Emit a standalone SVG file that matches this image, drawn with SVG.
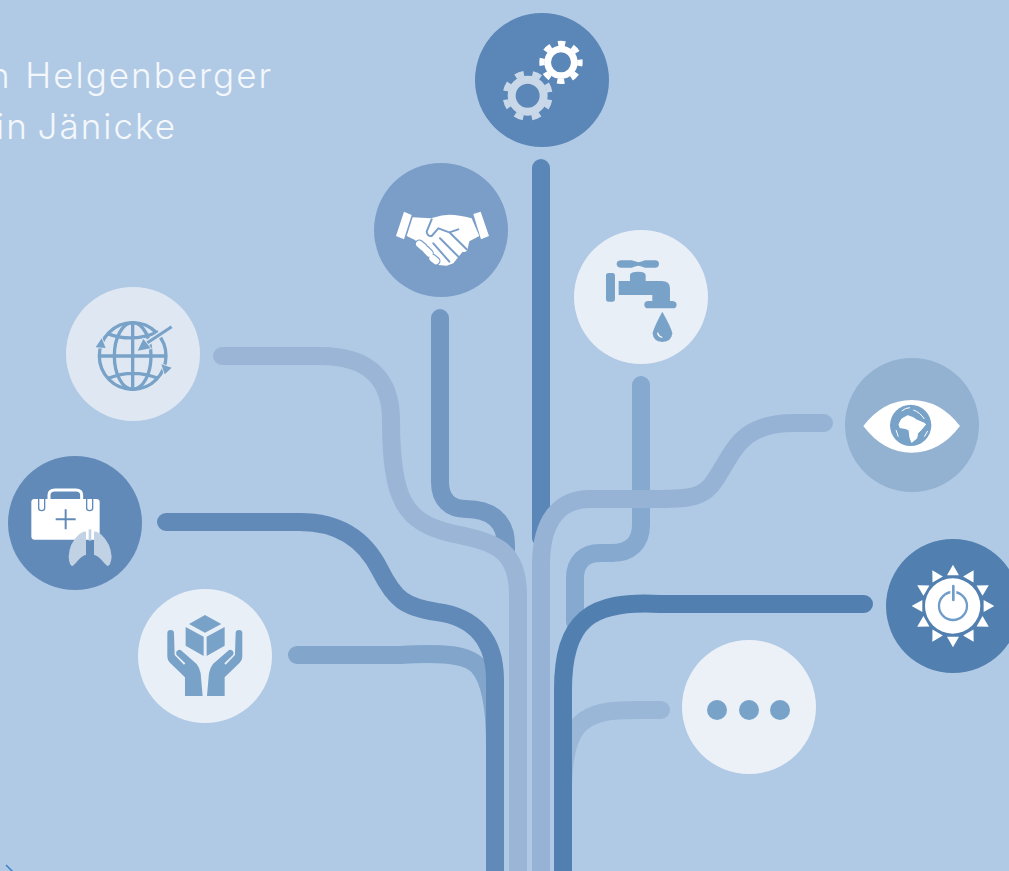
<svg xmlns="http://www.w3.org/2000/svg" width="1009" height="871" viewBox="0 0 1009 871">
<style>
.c{fill:none;stroke-width:18;stroke-linecap:round;stroke-linejoin:round}
.t{font-family:"Inter","Open Sans","Liberation Sans",sans-serif;font-weight:300;font-size:35px;letter-spacing:2px;fill:#f4f7fb;text-anchor:end}
.i{fill:#78a2c8}
.il{fill:none;stroke:#78a2c8}
</style>
<defs>
<path id="hand" d="M502 1060A10 10 0 0 1 522 1060L524 1125L552 1154L556 1150L530 1125Q525 1115 535 1110Q542 1108 548 1115L590 1152Q600 1165 602 1180L608 1248L555 1248L555 1192L510 1148Q502 1140 502 1130Z"/>
<polygon id="ray" points="-18,-92 18,-92 0,-124"/>
</defs>
<rect width="1009" height="871" fill="#b0cae5"/>
<text class="t" x="273" y="88" word-spacing="2">n Helgenberger</text>
<text class="t" x="177" y="139" word-spacing="-3">in Jänicke</text>
<path d="M6 865L14 873" stroke="#3f7fc0" stroke-width="1.5" fill="none"/>
<g id="connectors">
<path class="c" d="M541 168V538" style="stroke:#5b86b8"/>
<path class="c" stroke="#7399c3" d="M440 318V482C440 500 450 509 466 509C490 509 506 520 506 545V552"/>
<path class="c" stroke="#86a9d0" d="M641 385V525C641 543 630 553 612 553H600C584 553 575 562 575 578V622"/>
<path class="c" stroke="#9ab5d6" d="M222 356H320C370 356 391 380 391 420C391 500 405 522 450 533C490 542 518 545 518 595V880"/>
<path class="c" stroke="#96b3d6" d="M824 423H795C740 423 735 450 715 480C705 497 690 499 660 499H590C560 499 541 520 541 565V880"/>
<path class="c" stroke="#82a5cc" d="M297 655H400C445 652 468 655 478 666C488 677 495 700 495 745"/>
<path class="c" stroke="#628ab8" d="M166 522H300C340 522 365 540 380 570C395 600 405 607 437 612C475 617 495 640 495 680V880"/>
<path class="c" stroke="#9ab7d8" d="M661 710H635C585 710 563 720 563 790"/>
<path class="c" stroke="#517fb0" d="M864 604H660C590 600 563 620 563 690V880"/>
</g>
<g id="gears">
<circle cx="542" cy="80" r="67" fill="#5b86b8"/>
<g transform="translate(360 0) scale(.3333)" fill="none">
<circle cx="603" cy="187" r="40" stroke="#fff" stroke-width="20"/>
<circle cx="603" cy="187" r="57" stroke="#fff" stroke-width="16" stroke-dasharray="22 22.8" stroke-dashoffset="11"/>
<circle cx="503" cy="287" r="48" stroke="#c9d8e8" stroke-width="24"/>
<circle cx="503" cy="287" r="67" stroke="#c9d8e8" stroke-width="16" stroke-dasharray="26 26.6" stroke-dashoffset="-13"/>
</g>
</g>
<g id="handshake">
<circle cx="441" cy="230" r="67" fill="#7a9ec7"/>
<g transform="translate(390 200) scale(.3333)">
<path fill="#fff" d="M42 35L65 45L42 118L18 108ZM272 35L250 42L273 118L297 108ZM68 52L122 55L135 52Q175 35 245 55L268 108L238 124L232 150Q228 158 218 155L190 190L170 197L145 195L75 120L50 108Z"/>
<path fill="none" stroke="#7a9ec7" stroke-width="6" stroke-linecap="round" stroke-linejoin="round" d="M125 58L110 95Q112 110 125 108L145 85L178 97L230 148M178 97L205 88M150 115L205 170M130 130L178 185"/>
<path fill="none" stroke="#7a9ec7" stroke-width="27" stroke-linecap="round" d="M88 132L100 142M108 150L118 160M128 175L138 183"/>
<path fill="none" stroke="#fff" stroke-width="20" stroke-linecap="round" d="M88 132L100 142M108 150L118 160M128 175L138 183"/>
</g>
</g>
<g id="tap">
<circle cx="641" cy="297" r="67" fill="#e9eff7"/>
<g transform="translate(360 0) scale(.3333)">
<path class="i" d="M770 792Q770 781 785 781L815 781Q830 785 835 787Q845 785 855 781L885 781Q897 781 897 792Q897 803 885 803L855 803Q845 799 835 797Q825 799 815 803L785 803Q770 803 770 792Z"/>
<rect class="i" x="738" y="819" width="27" height="86" rx="8"/>
<path class="i" d="M810 843L810 825Q812 815 835 815Q855 815 857 825L857 843L905 843Q930 843 930 865L930 903L938 903Q950 905 950 914Q950 925 938 925L865 925Q853 925 853 914Q853 903 865 903L877 903L877 885L776 885L776 843Z"/>
<path class="i" d="M907 935Q880 985 878 1000Q880 1025 907 1026Q935 1025 937 1000Q935 985 907 935Z"/>
<path d="M893 998Q895 1010 907 1012" fill="none" stroke="#fff" stroke-width="4"/>
</g>
</g>
<g id="globe">
<circle cx="133" cy="354" r="67" fill="#dfe8f2"/>
<g transform="translate(90 315) scale(.3333)">
<g class="il" stroke-width="10">
<circle cx="128" cy="123" r="100"/>
<ellipse cx="128" cy="123" rx="55" ry="100"/>
<path d="M128 23V223M28 123H228M50 55Q128 85 205 50M55 190Q128 160 205 190"/>
</g>
<path d="M245 35L170 85" stroke="#dfe8f2" stroke-width="18" fill="none"/>
<path d="M245 35L170 85" stroke="#78a2c8" stroke-width="9" fill="none"/>
<path class="i" stroke="#dfe8f2" stroke-width="5" paint-order="stroke" d="M143 107L182 100L160 72ZM35 70L17 97L47 99ZM214 148L245 158L224 178Z"/>
</g>
</g>
<g id="medical">
<circle cx="75" cy="523" r="67" fill="#628ab8"/>
<g transform="translate(0 280) scale(.3333)">
<path d="M147 657V645Q147 630 165 630H228Q245 630 245 645V657" fill="none" stroke="#fff" stroke-width="9"/>
<rect x="94" y="657" width="205" height="122" rx="10" fill="#fff"/>
<path d="M116 657V685Q116 692 125 692Q134 692 134 685V657M260 657V685Q260 692 269 692Q278 692 278 685V657" fill="none" stroke="#628ab8" stroke-width="4"/>
<path d="M167 718H227M197 688V748" stroke="#628ab8" stroke-width="6" fill="none"/>
<path fill="#c1d2e5" d="M258 755Q250 752 235 765Q208 790 206 830Q208 858 218 858Q228 850 235 840Q250 825 258 825ZM282 755Q290 752 305 765Q332 790 335 830Q332 858 322 858Q312 850 305 840Q290 825 282 825Z"/>
<path d="M270 748V782" stroke="#c1d2e5" stroke-width="8" fill="none"/>
</g>
</g>
<g id="box">
<circle cx="205" cy="656" r="67" fill="#e9eff7"/>
<g class="i" transform="translate(0 280) scale(.3333)">
<path d="M615 1005L664 1032L615 1058L567 1032ZM557 1041L611 1070L611 1128L557 1097ZM620 1070L674 1041L674 1097L620 1128Z"/>
<use href="#hand"/>
<use href="#hand" transform="translate(1229 0) scale(-1 1)"/>
</g>
</g>
<g id="eye">
<circle cx="912" cy="425" r="67" fill="#93b1d1"/>
<g transform="translate(840 350) scale(.3333)">
<path fill="#fff" d="M70 228Q130 150 215 150Q300 150 360 228Q300 308 215 308Q130 308 70 228Z"/>
</g>
<g transform="translate(885 395) scale(.3333)">
<circle class="i" cx="77" cy="91" r="62"/>
<path fill="#fff" stroke="#fff" stroke-width="3" stroke-linejoin="round" d="M42 88L50 72L68 62L85 68L95 75L118 85L122 88L108 105L98 115L95 130L80 142L75 128L72 105L60 100L45 98Z"/>
<path fill="none" stroke="#fff" stroke-width="3" d="M50 48Q62 38 75 38M85 45Q105 52 118 72M128 108L118 125M33 105L40 125"/>
</g>
</g>
<g id="sun">
<circle cx="953" cy="606" r="67" fill="#517fb0"/>
<g transform="translate(840 350) scale(.3333)">
<circle cx="338" cy="768" r="83" fill="#fff"/>
<g fill="#fff" transform="translate(339 768)">
<use href="#ray"/><use href="#ray" transform="rotate(30)"/><use href="#ray" transform="rotate(60)"/><use href="#ray" transform="rotate(90)"/><use href="#ray" transform="rotate(120)"/><use href="#ray" transform="rotate(150)"/><use href="#ray" transform="rotate(180)"/><use href="#ray" transform="rotate(210)"/><use href="#ray" transform="rotate(240)"/><use href="#ray" transform="rotate(270)"/><use href="#ray" transform="rotate(300)"/><use href="#ray" transform="rotate(330)"/>
</g>
<circle cx="339" cy="768" r="42" fill="none" stroke="#6f9cc8" stroke-width="7"/>
<path d="M340 750V708" stroke="#fff" stroke-width="18" fill="none"/>
<path d="M340 750V708" stroke="#6f9cc8" stroke-width="8" stroke-linecap="round" fill="none"/>
</g>
</g>
<g id="more">
<circle cx="749" cy="707" r="67" fill="#ecf1f8"/>
<circle class="i" cx="717" cy="710" r="10"/><circle class="i" cx="749" cy="710" r="10"/><circle class="i" cx="780" cy="710" r="10"/>
</g>
</svg>
